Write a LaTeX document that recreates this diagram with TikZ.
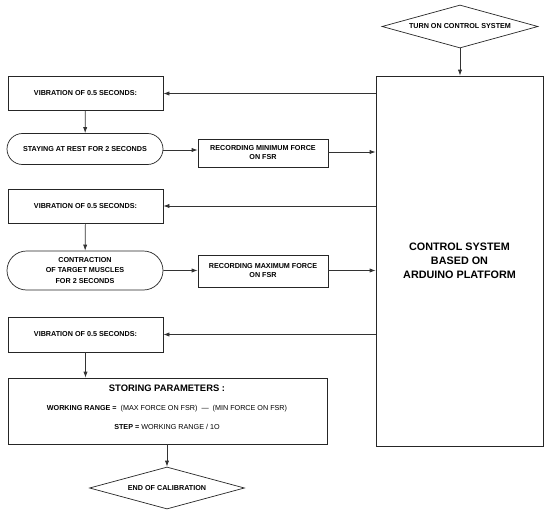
\documentclass[tikz,border=0pt]{standalone}
\usepackage{fontspec}
\setmainfont{Liberation Sans}
\usetikzlibrary{shapes.geometric,shapes.misc,arrows.meta}
\begin{document}
\begin{tikzpicture}[x=1pt,y=-1pt,
  line width=0.7pt,
  txt/.style={font=\fontsize{7.2}{9}\selectfont\bfseries},
  box/.style={draw=black!85,fill=white,rectangle,inner sep=0pt,align=center,txt},
  stadium/.style={draw=black!85,fill=white,rounded rectangle,inner sep=0pt,align=center,txt},
  dia/.style={draw=black!85,fill=white,diamond,aspect=3.6,inner sep=0pt,align=center,txt},
  arr/.style={draw=black!80,-{Latex[length=6pt,width=4.2pt]}}]
\useasboundingbox (0,0) rectangle (550,514);
\node[box,minimum width=167pt,minimum height=370pt,font=\fontsize{10.8}{14}\selectfont\bfseries] (ctrl) at (459.5,261) {CONTROL SYSTEM\\BASED ON\\ARDUINO PLATFORM};
\node[box,minimum width=155pt,minimum height=34pt] (v1) at (85.5,93.5) {VIBRATION OF 0.5 SECONDS:};
\node[stadium,minimum width=156pt,minimum height=31pt] (s1) at (85,149) {STAYING AT REST FOR 2 SECONDS};
\node[box,minimum width=130pt,minimum height=28pt] (r1) at (263,153) {RECORDING MINIMUM FORCE\\ON FSR};
\node[box,minimum width=155pt,minimum height=34pt] (v2) at (85.5,206) {VIBRATION OF 0.5 SECONDS:};
\node[stadium,minimum width=156pt,minimum height=39pt,font=\fontsize{7.2}{10.5}\selectfont\bfseries] (s2) at (85,270.5) {CONTRACTION\\OF TARGET MUSCLES\\FOR 2 SECONDS};
\node[box,minimum width=130pt,minimum height=32pt] (r2) at (263,271) {RECORDING MAXIMUM FORCE\\ON FSR};
\node[box,minimum width=155pt,minimum height=35pt] (v3) at (85.5,334.5) {VIBRATION OF 0.5 SECONDS:};
\node[box,minimum width=319pt,minimum height=66pt] (st) at (167.5,411) {};
\node[font=\fontsize{9.4}{11}\selectfont\bfseries] (st1) at (167,388.5) {STORING PARAMETERS :};
\node[font=\fontsize{7.2}{9}\selectfont] (st2) at (167,409) {\textbf{WORKING RANGE =} \ (MAX FORCE ON FSR) \ --- \ (MIN FORCE ON FSR)};
\node[font=\fontsize{7.2}{9}\selectfont] (st3) at (167,427) {\textbf{STEP =} WORKING RANGE / 1O};
\node[dia,minimum width=156pt,minimum height=43pt] (top) at (460,26.5) {TURN ON CONTROL SYSTEM};
\node[dia,minimum width=155pt,minimum height=42pt] (end) at (167,488) {END OF CALIBRATION};
\draw[arr] (top) -- (ctrl.north -| top);
\draw[arr] (ctrl.west |- v1) -- (v1);
\draw[arr] (v1) -- (s1);
\draw[arr] (s1.east |- 0,150) -- (r1.west |- 0,150);
\draw[arr] (r1.east |- 0,152) -- (ctrl.west |- 0,152);
\draw[arr] (ctrl.west |- v2) -- (v2);
\draw[arr] (v2) -- (s2);
\draw[arr] (s2) -- (r2.west |- s2);
\draw[arr] (r2.east |- s2) -- (ctrl.west |- s2);
\draw[arr] (ctrl.west |- v3) -- (v3);
\draw[arr] (v3) -- (v3 |- st.north);
\draw[arr] (st.south -| end) -- (end);
\end{tikzpicture}
\end{document}
